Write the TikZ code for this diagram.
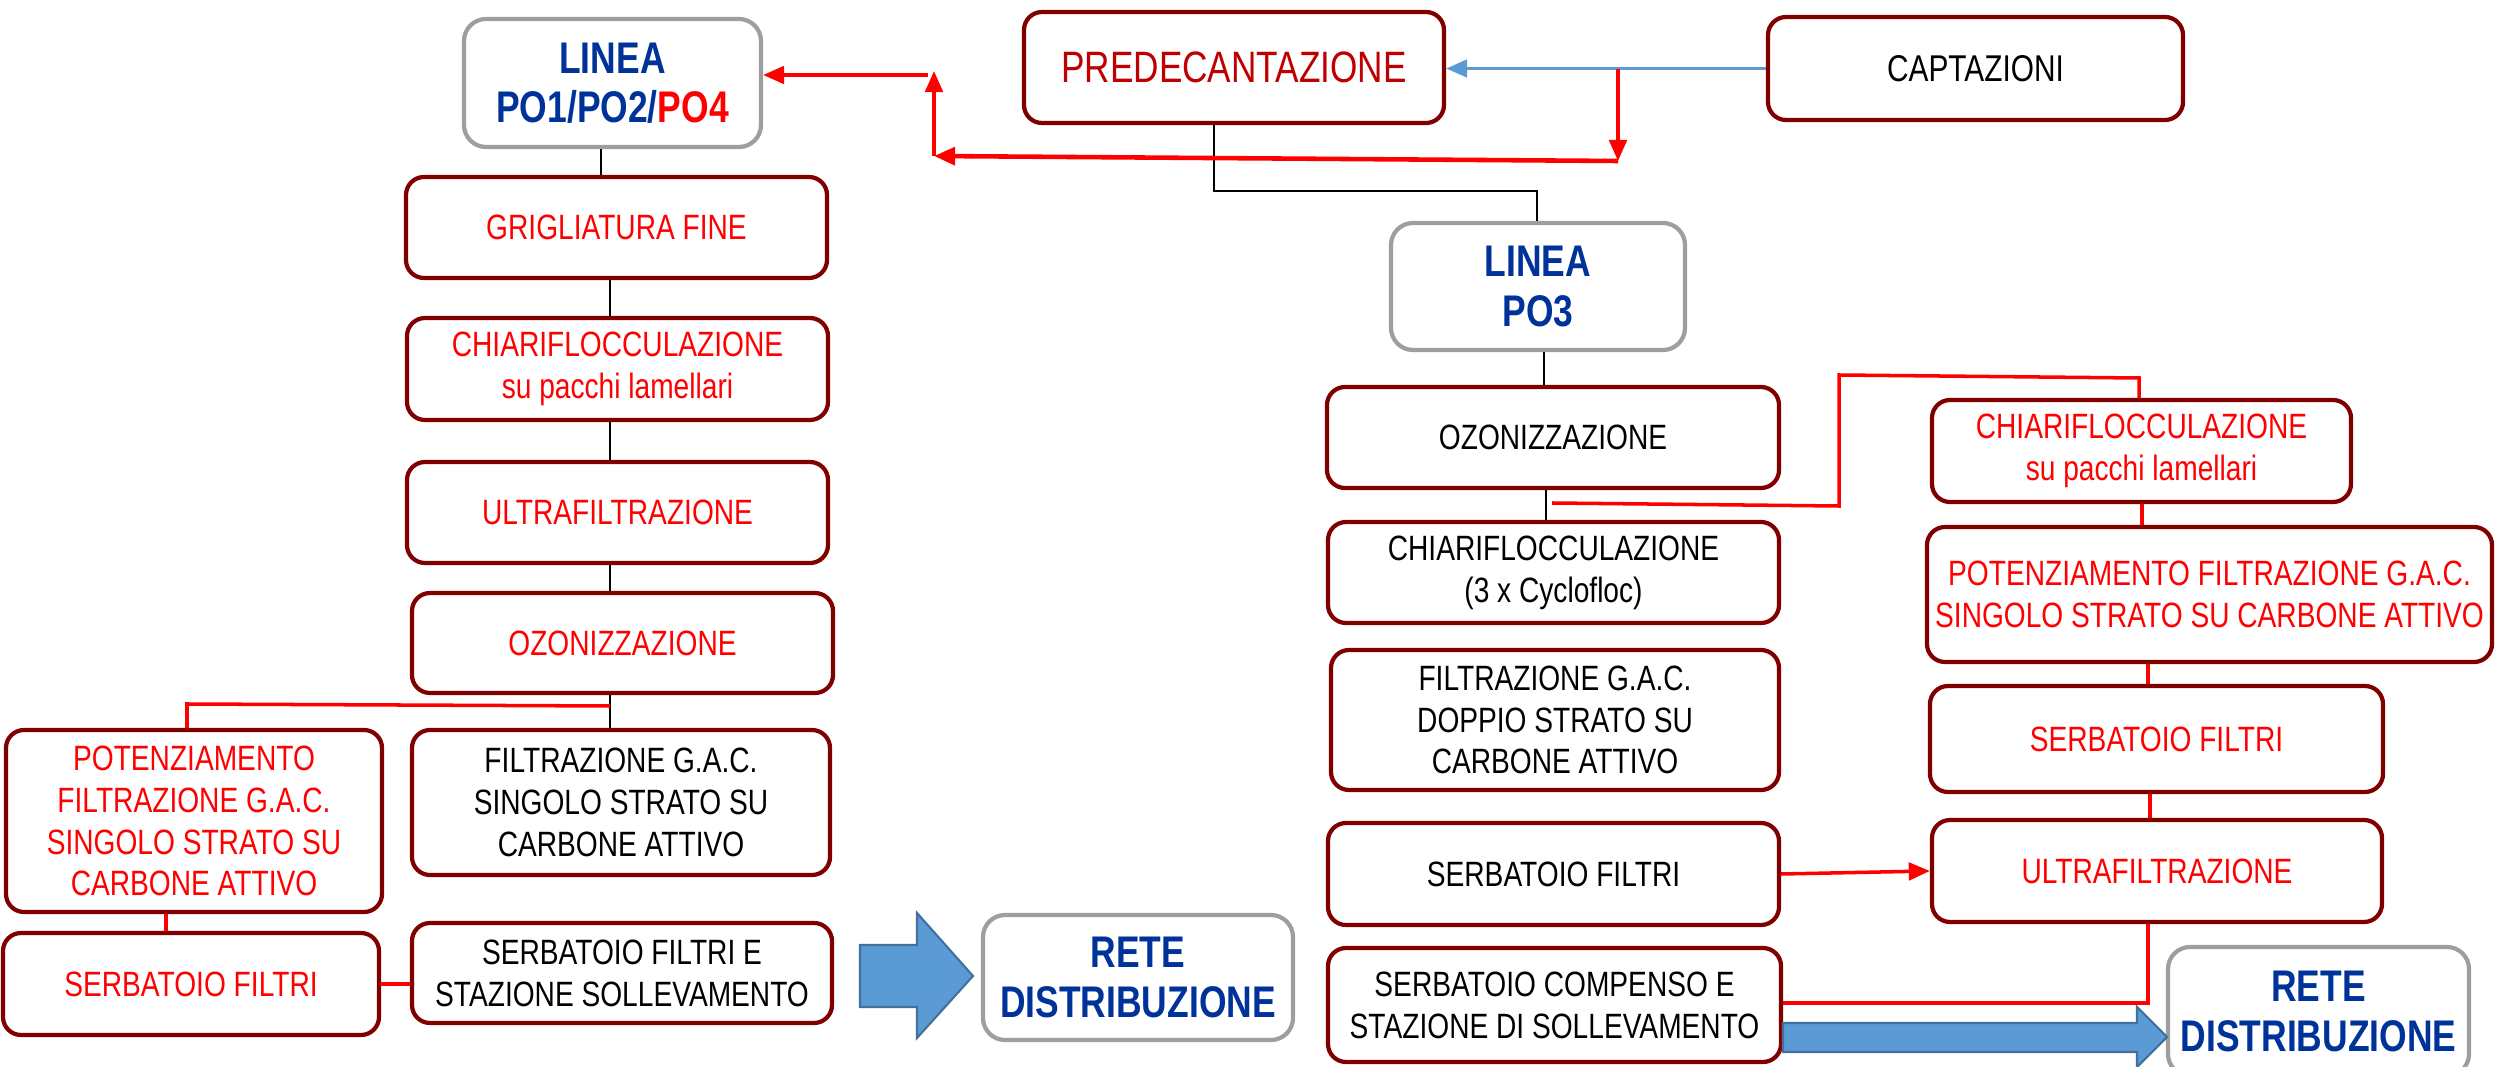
\documentclass[tikz,border=0pt]{standalone}
\usepackage{fontspec}
\setmainfont{Liberation Sans}[FakeStretch=0.8]
\usetikzlibrary{arrows.meta}
\definecolor{boxred}{RGB}{128,0,0}
\definecolor{boxgray}{RGB}{158,158,158}
\definecolor{txtblue}{RGB}{0,51,153}
\definecolor{darkred}{RGB}{192,0,0}
\definecolor{arrblue}{RGB}{91,155,213}
\definecolor{arrblueedge}{RGB}{65,113,156}
\newcommand\procbox[7]{%
  \pgfmathsetmacro\mybw{(#5-#3)*0.01}\pgfmathsetmacro\mybh{(#6-#4)*0.01}%
  \node[#1, minimum width=\mybw cm, minimum height=\mybh cm] (#2) at ({(#3+#5)/2},{(#4+#6)/2}) {#7};}
\begin{document}
\begin{tikzpicture}[x=0.01cm,y=-0.01cm,
  box/.style={draw=boxred, line width=1.2pt, rounded corners=0.18cm, fill=white, align=center, inner sep=1pt, font=\fontsize{10}{11.9}\selectfont},
  graybox/.style={box, draw=boxgray, rounded corners=0.22cm, text=txtblue, font=\fontsize{12.6}{14}\selectfont\bfseries},
  rt/.style={text=red}, bt/.style={text=black},
  blk/.style={draw=black, line width=0.4pt},
  redln/.style={draw=red, line width=1pt},
  redar/.style={redln, -{Triangle[length=6pt,width=5pt]}},
  bluar/.style={draw=arrblue, line width=1pt, -{Triangle[length=6pt,width=5pt]}},
  blockarrow/.style={fill=arrblue, draw=arrblueedge, line width=0.6pt}]
\useasboundingbox (0,0) rectangle (2496,1067);
% top
\procbox{box,text=darkred,font=\fontsize{12.5}{14}\selectfont}{P}{1024}{12}{1444}{123}{PREDECANTAZIONE}
\procbox{box,bt,font=\fontsize{10.6}{12}\selectfont}{C}{1768}{17}{2183}{120}{CAPTAZIONI}
% left column
\procbox{graybox}{L0}{464}{19}{761}{147}{LINEA\\PO1/PO2/\textcolor{red}{PO4}}
\procbox{box,rt}{L1}{406}{177}{827}{278}{GRIGLIATURA FINE}
\procbox{box,rt}{L2}{407}{318}{828}{420}{CHIARIFLOCCULAZIONE\\su pacchi lamellari}
\procbox{box,rt}{L3}{407}{462}{828}{563}{ULTRAFILTRAZIONE}
\procbox{box,rt}{L4}{412}{593}{833}{693}{OZONIZZAZIONE}
\procbox{box,rt}{L5}{6}{730}{382}{912}{POTENZIAMENTO\\FILTRAZIONE G.A.C.\\SINGOLO STRATO SU\\CARBONE ATTIVO}
\procbox{box,bt}{L6}{412}{730}{830}{875}{FILTRAZIONE G.A.C.\\SINGOLO STRATO SU\\CARBONE ATTIVO}
\procbox{box,rt}{L7}{3}{933}{379}{1035}{SERBATOIO FILTRI}
\procbox{box,bt}{L8}{412}{923}{832}{1023}{SERBATOIO FILTRI E\\STAZIONE SOLLEVAMENTO}
\procbox{graybox}{L9}{983}{915}{1293}{1040}{RETE\\DISTRIBUZIONE}
% right column (PO3)
\procbox{graybox}{R0}{1391}{223}{1685}{350}{LINEA\\PO3}
\procbox{box,bt}{R1}{1327}{387}{1779}{488}{OZONIZZAZIONE}
\procbox{box,bt}{R2}{1328}{522}{1779}{623}{CHIARIFLOCCULAZIONE\\(3 x Cyclofloc)}
\procbox{box,bt}{R3}{1331}{650}{1779}{790}{FILTRAZIONE G.A.C.\\DOPPIO STRATO SU\\CARBONE ATTIVO}
\procbox{box,bt}{R4}{1328}{823}{1779}{925}{SERBATOIO FILTRI}
\procbox{box,bt}{R5}{1328}{948}{1781}{1062}{SERBATOIO COMPENSO E\\STAZIONE DI SOLLEVAMENTO}
% far right column
\procbox{box,rt}{S1}{1932}{400}{2351}{502}{CHIARIFLOCCULAZIONE\\su pacchi lamellari}
\procbox{box,rt}{S2}{1927}{527}{2492}{662}{POTENZIAMENTO FILTRAZIONE G.A.C.\\SINGOLO STRATO SU CARBONE ATTIVO}
\procbox{box,rt}{S3}{1930}{686}{2383}{792}{SERBATOIO FILTRI}
\procbox{box,rt}{S4}{1932}{820}{2382}{922}{ULTRAFILTRAZIONE}
\procbox{graybox}{S5}{2168}{947}{2469}{1076}{RETE\\DISTRIBUZIONE}
% helper coordinates
\coordinate (x601) at (601,0);
\coordinate (x610) at (610,0);
\coordinate (x166) at (166,0);
\coordinate (x1544) at (1544,0);
\coordinate (x1546) at (1546,0);
\coordinate (x2142) at (2142,0);
\coordinate (x2148) at (2148,0);
\coordinate (x2150) at (2150,0);
\coordinate (pb1) at (1214,191);
\coordinate (pb2) at (1537,191);
\coordinate (rA) at (1618,69);
\coordinate (rB) at (1618,161);
\coordinate (rC) at (934,156);
\coordinate (rD) at (934,71);
\coordinate (rE) at (928,75);
\coordinate (lA) at (610,706);
\coordinate (lB) at (187,704);
\coordinate (zA) at (1552,503);
\coordinate (zB) at (1839,506);
\coordinate (zC) at (1839,375);
\coordinate (zD) at (2139,378);
\coordinate (uF) at (2148,1003);
% black connectors
\draw[blk] (L0.south -| x601) -- (L1.north -| x601);
\draw[blk] (L1.south -| x610) -- (L2.north -| x610);
\draw[blk] (L2.south -| x610) -- (L3.north -| x610);
\draw[blk] (L3.south -| x610) -- (L4.north -| x610);
\draw[blk] (L4.south -| x610) -- (L6.north -| x610);
\draw[blk] (P.south -| pb1) -- (pb1) -- (pb2) -- (R0.north -| pb2);
\draw[blk] (R0.south -| x1544) -- (R1.north -| x1544);
\draw[blk] (R1.south -| x1546) -- (R2.north -| x1546);
% blue line captazioni -> predecantazione
\draw[bluar] (C.west) -- (P.east |- C.west);
% red connectors at top
\draw[redar] (rA) -- (rB);
\draw[redar, line width=1.3pt] (rB) -- (rC);
\draw[redar] (rC) -- (rD);
\draw[redar] (rE) -- (L0.east |- rE);
% left red
\draw[redln] (lA) -- (lB) -- (L5.north -| lB);
\draw[redln] (L5.south -| x166) -- (L7.north -| x166);
\draw[redln] (L7.east) -- (L8.west |- L7.east);
% right red
\draw[redln] (zA) -- (zB) -- (zC) -- (zD) -- (S1.north -| zD);
\draw[redln] (S1.south -| x2142) -- (S2.north -| x2142);
\draw[redln] (S2.south -| x2148) -- (S3.north -| x2148);
\draw[redln] (S3.south -| x2150) -- (S4.north -| x2150);
\draw[redar] (R4.east) -- (S4.west);
\draw[redln] (S4.south -| uF) -- (uF) -- (R5.east |- uF);
% block arrows
\draw[blockarrow] (860,945) -- (917,945) -- (917,913) -- (973,976) -- (917,1038) -- (917,1007) -- (860,1007) -- cycle;
\draw[blockarrow] (1783,1023) -- (2137,1023) -- (2137,1007) -- (2167,1037) -- (2137,1067) -- (2137,1052) -- (1783,1052) -- cycle;
\end{tikzpicture}
\end{document}
